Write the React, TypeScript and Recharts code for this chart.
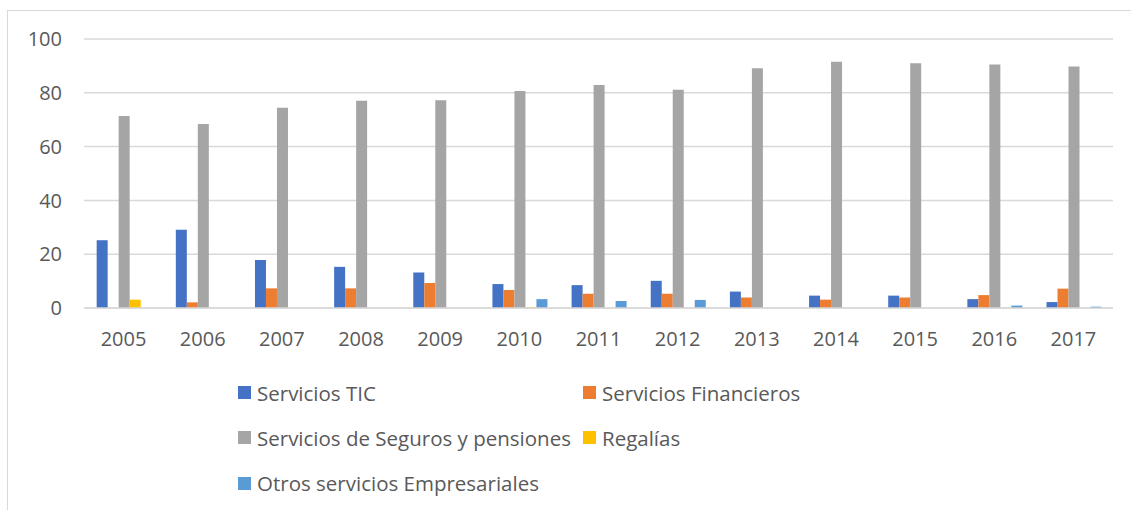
import React from 'react';
import { BarChart, Bar, XAxis, YAxis, CartesianGrid, Legend } from 'recharts';

const years = ['2005', '2006', '2007', '2008', '2009', '2010', '2011', '2012', '2013', '2014', '2015', '2016', '2017'];
const serviciosTIC = [25.2, 29.1, 17.8, 15.3, 13.2, 8.9, 8.5, 10.1, 6.1, 4.6, 4.6, 3.3, 2.2];
const serviciosFinancieros = [0, 2.1, 7.3, 7.3, 9.3, 6.7, 5.3, 5.3, 3.9, 3.1, 3.9, 4.8, 7.2];
const segurosPensiones = [71.4, 68.4, 74.4, 77.0, 77.2, 80.7, 82.9, 81.1, 89.1, 91.5, 91.0, 90.5, 89.8];
const regalias = [3.1, 0, 0, 0, 0, 0.3, 0, 0, 0, 0, 0, 0, 0];
const otrosEmpresariales = [0, 0, 0, 0, 0, 3.3, 2.6, 3.0, 0, 0, 0, 0.9, 0.5];
const yTicks = [0, 20, 40, 60, 80, 100];

const seriesNames = [
  'Servicios TIC',
  'Servicios Financieros',
  'Servicios de Seguros y pensiones',
  'Regalías',
  'Otros servicios Empresariales',
];
const seriesColors = ['#4472C4', '#ED7D31', '#A5A5A5', '#FFC000', '#5B9BD5'];
const seriesValues = [serviciosTIC, serviciosFinancieros, segurosPensiones, regalias, otrosEmpresariales];

const data = years.map((year, i) => {
  const row: Record<string, string | number> = { year };
  seriesNames.forEach((name, s) => {
    row[name] = seriesValues[s][i];
  });
  return row;
});

const FONT = '"Open Sans", sans-serif';
const TEXT = '#595959';

const LegendContent = (props: any) => {
  const payload = [...(props.payload || [])].sort(
    (a: any, b: any) => seriesNames.indexOf(a.value) - seriesNames.indexOf(b.value)
  );
  return (
    <div style={{ position: 'relative', width: 1131, height: 140, fontFamily: FONT }}>
      {payload.map((entry: any, i: number) => {
        const col = i % 2;
        const row = Math.floor(i / 2);
        return (
          <div
            key={entry.value}
            style={{
              position: 'absolute',
              left: col === 0 ? 238 : 583,
              top: row * 45.3,
              height: 45.3,
              display: 'flex',
              alignItems: 'center',
              whiteSpace: 'nowrap',
            }}
          >
            <span style={{ display: 'inline-block', width: 13, height: 13, background: entry.color, marginRight: 6 }} />
            <span style={{ color: TEXT, fontSize: 20.5, lineHeight: '24px' }}>{entry.value}</span>
          </div>
        );
      })}
    </div>
  );
};

export default function App() {
  return (
    <div style={{ position: 'absolute', left: 0, top: 0, width: 1131, height: 510, overflow: 'hidden', background: '#fff', fontFamily: FONT }}>
      <div
        style={{
          position: 'absolute',
          left: 7,
          top: 10,
          width: 1130,
          height: 510,
          borderTop: '1px solid #D9D9D9',
          borderLeft: '1px solid #D9D9D9',
        }}
      />
      <div style={{ position: 'absolute', left: 0, top: 0 }}>
        <BarChart
          width={1131}
          height={510}
          data={data}
          margin={{ top: 39, right: 18, left: 0, bottom: 162 }}
          barCategoryGap="16%"
          barGap={0}
        >
          <CartesianGrid vertical={false} stroke="#D9D9D9" strokeWidth={1.5} />
          <XAxis
            dataKey="year"
            height={40}
            tickLine={false}
            tickSize={0}
            tickMargin={24}
            axisLine={{ stroke: '#D9D9D9', strokeWidth: 1.5 }}
            tick={{ fill: TEXT, fontSize: 20, fontFamily: FONT }}
            interval={0}
          />
          <YAxis
            width={84}
            domain={[0, 100]}
            ticks={yTicks}
            axisLine={false}
            tickLine={false}
            tickSize={0}
            tickMargin={22}
            tick={{ fill: TEXT, fontSize: 20, fontFamily: FONT }}
          />
          <Legend
            layout="horizontal"
            verticalAlign="middle"
            align="center"
            wrapperStyle={{ left: 0, top: 370, width: 1131, height: 140 }}
            content={<LegendContent />}
          />
          {seriesNames.map((name, s) => (
            <Bar key={name} dataKey={name} fill={seriesColors[s]} isAnimationActive={false} />
          ))}
        </BarChart>
      </div>
    </div>
  );
}
